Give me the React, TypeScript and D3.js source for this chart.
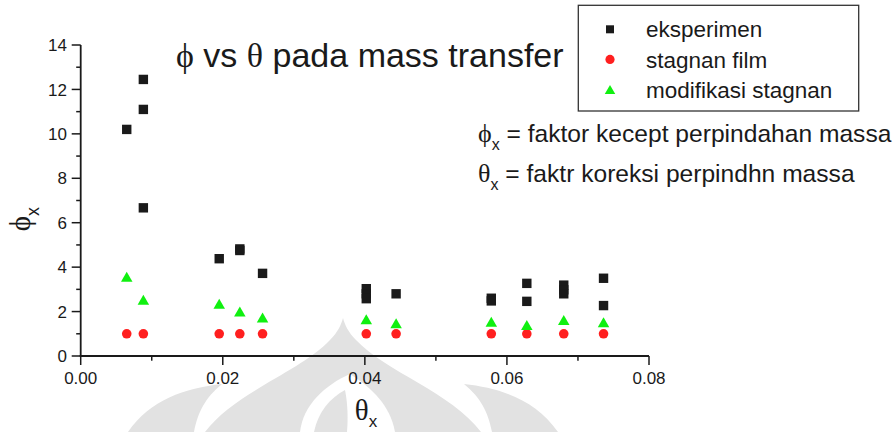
import React from "react";
import * as d3 from "d3";

const W = 895;
const H = 432;

// θx positions of the measurement groups
const thetaX: number[] = [0.00648, 0.00882, 0.0195, 0.0224, 0.0256, 0.0402, 0.0444, 0.0578, 0.0628, 0.068, 0.0736];

// experimental φx values, [θx, φx]
const eksperimen: [number, number][] = [
  [0.00648, 10.2],
  [0.00882, 12.45],
  [0.00882, 11.1],
  [0.00882, 6.67],
  [0.0195, 4.38],
  [0.0224, 4.75],
  [0.0224, 4.82],
  [0.0256, 3.72],
  [0.0402, 3.03],
  [0.0402, 2.8],
  [0.0402, 2.58],
  [0.0444, 2.8],
  [0.0578, 2.6],
  [0.0578, 2.48],
  [0.0628, 3.27],
  [0.0628, 2.46],
  [0.068, 3.19],
  [0.068, 2.98],
  [0.068, 2.8],
  [0.0736, 3.5],
  [0.0736, 2.27],
];

// stagnant film model, one value per θx group
const stagnanFilm: number[] = [1, 1, 1, 1, 1, 1, 1, 1, 1, 1, 1];

// modified stagnant film model, one value per θx group
const modifikasiStagnan: number[] = [3.57, 2.53, 2.35, 2.0, 1.73, 1.65, 1.47, 1.54, 1.4, 1.62, 1.52];

const xTicks: number[] = [0, 0.02, 0.04, 0.06, 0.08];
const xMinorTicks: number[] = [0.01, 0.03, 0.05, 0.07];
const yTicks: number[] = [0, 2, 4, 6, 8, 10, 12, 14];
const yMinorTicks: number[] = [1, 3, 5, 7, 9, 11, 13];

const legendItems: string[] = ["eksperimen", "stagnan film", "modifikasi stagnan"];

const PHI = "\u03D5";
const THETA = "\u03B8";

const SANS = "'Liberation Sans', Arial, sans-serif";
const SERIF = "'Liberation Serif', 'DejaVu Serif', 'Times New Roman', serif";
const INK = "#1a1a1a";
const RED = "#ff1f1f";
const GREEN = "#10f010";
const WM = "#e2e2e2";

const x = d3.scaleLinear().domain([0, 0.08]).range([80.7, 649]);
const y = d3.scaleLinear().domain([0, 14]).range([356, 45]);

function Square({ cx, cy, s = 9.4 }: { cx: number; cy: number; s?: number }) {
  return <rect x={cx - s / 2} y={cy - s / 2} width={s} height={s} fill={INK} />;
}

function Triangle({ cx, cy, w = 11.5, h = 10 }: { cx: number; cy: number; w?: number; h?: number }) {
  const p = `M${cx},${cy - h / 2}L${cx + w / 2},${cy + h / 2}L${cx - w / 2},${cy + h / 2}Z`;
  return <path d={p} fill={GREEN} />;
}

export default function App() {
  const fmt = d3.format(".2f");
  return (
    <svg
      width={W}
      height={H}
      viewBox={`0 0 ${W} ${H}`}
      style={{ position: "absolute", left: 0, top: 0, background: "#fff" }}
    >
      <rect width={W} height={H} fill="#fff" />

      {/* faint emblem in the background */}
      <g>
        <path d="M205,432 C235,392 300,372 330,340 C338,332 341,325 343,318 C345,325 348,332 356,340 C386,372 451,392 481,432 Z" fill={WM} />
        <path d="M128,432 C150,400 185,388 222,384 C205,398 198,412 194,432 Z" fill={WM} />
        <path d="M558,432 C536,400 501,388 464,384 C481,398 488,412 492,432 Z" fill={WM} />
        <path d="M300,432 C303,405 325,385 350,374 C372,388 390,405 395,432 Z" fill="#fff" />
        <path d="M314,432 C318,412 330,398 345,390 C348,405 348,420 347,432 Z" fill={WM} />
      </g>

      {/* y axis */}
      <line x1={x(0)} x2={x(0)} y1={y(14)} y2={y(0)} stroke={INK} strokeWidth={1.8} />
      {yTicks.map((t) => (
        <g key={`yt${t}`}>
          <line x1={x(0) - 9} x2={x(0)} y1={y(t)} y2={y(t)} stroke={INK} strokeWidth={1.5} />
          <text x={67} y={y(t)} dy="0.36em" textAnchor="end" fontFamily={SANS} fontSize={17} fill={INK}>
            {t}
          </text>
        </g>
      ))}
      {yMinorTicks.map((t) => (
        <line key={`ym${t}`} x1={x(0) - 4.5} x2={x(0)} y1={y(t)} y2={y(t)} stroke={INK} strokeWidth={1.5} />
      ))}

      {/* x axis */}
      <line x1={x(0) - 1} x2={x(0.08)} y1={y(0)} y2={y(0)} stroke={INK} strokeWidth={1.8} />
      {xTicks.map((t) => (
        <g key={`xt${t}`}>
          <line x1={x(t)} x2={x(t)} y1={y(0)} y2={y(0) + 9} stroke={INK} strokeWidth={1.5} />
          <text x={x(t)} y={384} textAnchor="middle" fontFamily={SANS} fontSize={17} fill={INK}>
            {fmt(t)}
          </text>
        </g>
      ))}
      {xMinorTicks.map((t) => (
        <line key={`xm${t}`} x1={x(t)} x2={x(t)} y1={y(0)} y2={y(0) + 4.7} stroke={INK} strokeWidth={1.5} />
      ))}

      {/* axis titles */}
      <text x={366} y={419.5} textAnchor="middle" fill={INK}>
        <tspan fontFamily={SERIF} fontSize={29}>{THETA}</tspan>
        <tspan fontFamily={SANS} fontSize={17} dy={7.5}>x</tspan>
      </text>
      <text transform="translate(30,219) rotate(-90)" textAnchor="middle" fill={INK}>
        <tspan fontFamily={SERIF} fontSize={29}>{PHI}</tspan>
        <tspan fontFamily={SANS} fontSize={18} dy={9}>x</tspan>
      </text>

      {/* data */}
      {eksperimen.map(([tx, v], i) => (
        <Square key={`e${i}`} cx={x(tx)} cy={y(v)} />
      ))}
      {stagnanFilm.map((v, i) => (
        <circle key={`s${i}`} cx={x(thetaX[i])} cy={y(v)} r={4.8} fill={RED} />
      ))}
      {modifikasiStagnan.map((v, i) => (
        <Triangle key={`m${i}`} cx={x(thetaX[i])} cy={y(v)} />
      ))}

      {/* title */}
      <text x={176} y={66.7} fill={INK} fontFamily={SANS} fontSize={34}>
        <tspan fontFamily={SERIF}>{PHI}</tspan>
        <tspan> vs </tspan>
        <tspan fontFamily={SERIF}>{THETA}</tspan>
        <tspan> pada mass transfer</tspan>
      </text>

      {/* notes */}
      <text x={478} y={141.7} fill={INK} fontFamily={SANS} fontSize={24.6}>
        <tspan fontFamily={SERIF} fontSize={26}>{PHI}</tspan>
        <tspan fontSize={16} dy={8.3}>x</tspan>
        <tspan dy={-8.3}> = faktor kecept perpindahan massa</tspan>
      </text>
      <text x={478} y={181.7} fill={INK} fontFamily={SANS} fontSize={24.6}>
        <tspan fontFamily={SERIF} fontSize={26}>{THETA}</tspan>
        <tspan fontSize={16} dy={8.3}>x</tspan>
        <tspan dy={-8.3}> = faktr koreksi perpindhn massa</tspan>
      </text>

      {/* legend */}
      <rect x={578.3} y={5.3} width={280.4} height={105.7} fill="#fff" stroke="#333" strokeWidth={1.3} />
      {legendItems.map((label, i) => {
        const cy = 29.3 + i * 30.1;
        return (
          <g key={label}>
            {i === 0 && <Square cx={610} cy={cy} s={8} />}
            {i === 1 && <circle cx={610} cy={cy} r={4.6} fill={RED} />}
            {i === 2 && <Triangle cx={610} cy={cy} w={10.5} h={9} />}
            <text x={646} y={cy} dy="0.36em" fontFamily={SANS} fontSize={22.5} fill={INK}>
              {label}
            </text>
          </g>
        );
      })}
    </svg>
  );
}
